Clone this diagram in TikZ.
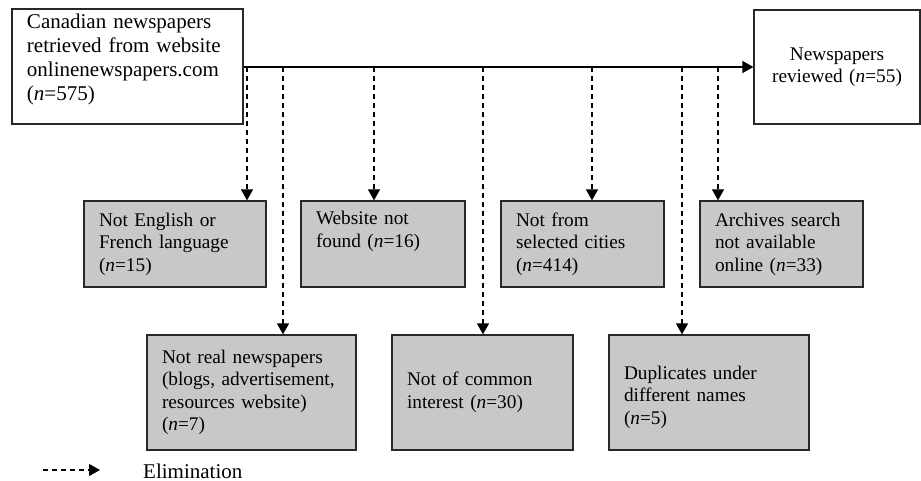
\documentclass[tikz,border=0pt]{standalone}
\usepackage{fontspec}
\setmainfont{Liberation Serif}
\usepackage{xcolor}
\usepackage{tikz}
\usetikzlibrary{positioning,calc,arrows.meta}
\definecolor{elimgray}{RGB}{199,200,202}
\definecolor{edgegray}{RGB}{40,40,40}

\begin{document}
\begin{tikzpicture}[x=1pt,y=-1pt,
    mainbox/.style={draw=edgegray, line width=1.2pt, inner xsep=15pt, inner ysep=0pt,
        minimum height=#1, font=\fontsize{21}{24}\selectfont},
    elimbox/.style={mainbox=#1, fill=elimgray, font=\fontsize{19.3}{22.5}\selectfont},
    flow/.style={line width=1.2pt, -{Triangle[length=11pt,width=12pt]}},
    elim/.style={flow, dash pattern=on 5pt off 4pt}]
    \useasboundingbox (0,0) rectangle (921,481);
    \node[mainbox=115pt, text width=201pt, align=left] (src) at (127.5,66.5)
        {Canadian newspapers\\retrieved from website\\onlinenewspapers.com\\(\textit{n}=575)\\[-6pt]\mbox{}};
    \node[mainbox=114pt, text width=136pt, align=center, font=\fontsize{19.3}{22.5}\selectfont] (rev) at (837,67)
        {Newspapers\\reviewed (\textit{n}=55)};
    \node[elimbox=86pt, text width=152pt, align=left] (lang) at (175,244)
        {Not English or\\French language\\(\textit{n}=15)};
    \node[elimbox=86pt, text width=134pt, align=left] (nosite) at (383,244)
        {Website not\\found (\textit{n}=16)\\\strut};
    \node[elimbox=86pt, text width=133pt, align=left] (city) at (582.5,244)
        {Not from\\selected cities\\(\textit{n}=414)};
    \node[elimbox=86pt, text width=133pt, align=left] (arch) at (781.5,244)
        {Archives search\\not available\\online (\textit{n}=33)};
    \node[elimbox=115pt, text width=179pt, align=left] (real) at (251.5,392.5)
        {Not real newspapers\\(blogs, advertisement,\\resources website)\\(\textit{n}=7)};
    \node[elimbox=115pt, text width=151pt, align=left] (common) at (482.5,392.5)
        {Not of common\\interest (\textit{n}=30)};
    \node[elimbox=115pt, text width=170pt, align=left] (dup) at (709,392.5)
        {\mbox{}\\Duplicates under\\different names\\(\textit{n}=5)};
    \draw[flow] (src.east |- rev.west) -- (rev.west);
    \coordinate (d1) at (247,67);
    \coordinate (d2) at (283,67);
    \coordinate (d3) at (374,67);
    \coordinate (d4) at (483,67);
    \coordinate (d5) at (592,67);
    \coordinate (d6) at (682,67);
    \coordinate (d7) at (718,67);
    \draw[elim] (d1) -- (d1 |- lang.north);
    \draw[elim] (d2) -- (d2 |- real.north);
    \draw[elim] (d3) -- (d3 |- nosite.north);
    \draw[elim] (d4) -- (d4 |- common.north);
    \draw[elim] (d5) -- (d5 |- city.north);
    \draw[elim] (d6) -- (d6 |- dup.north);
    \draw[elim] (d7) -- (d7 |- arch.north);
    \coordinate (legstart) at (43,470);
    \coordinate (legend) at (100,470);
    \draw[elim] (legstart) -- (legend);
    \node[anchor=base west, inner sep=0pt, font=\fontsize{21}{24}\selectfont] (legtext) at (143,478) {Elimination};
\end{tikzpicture}
\end{document}
